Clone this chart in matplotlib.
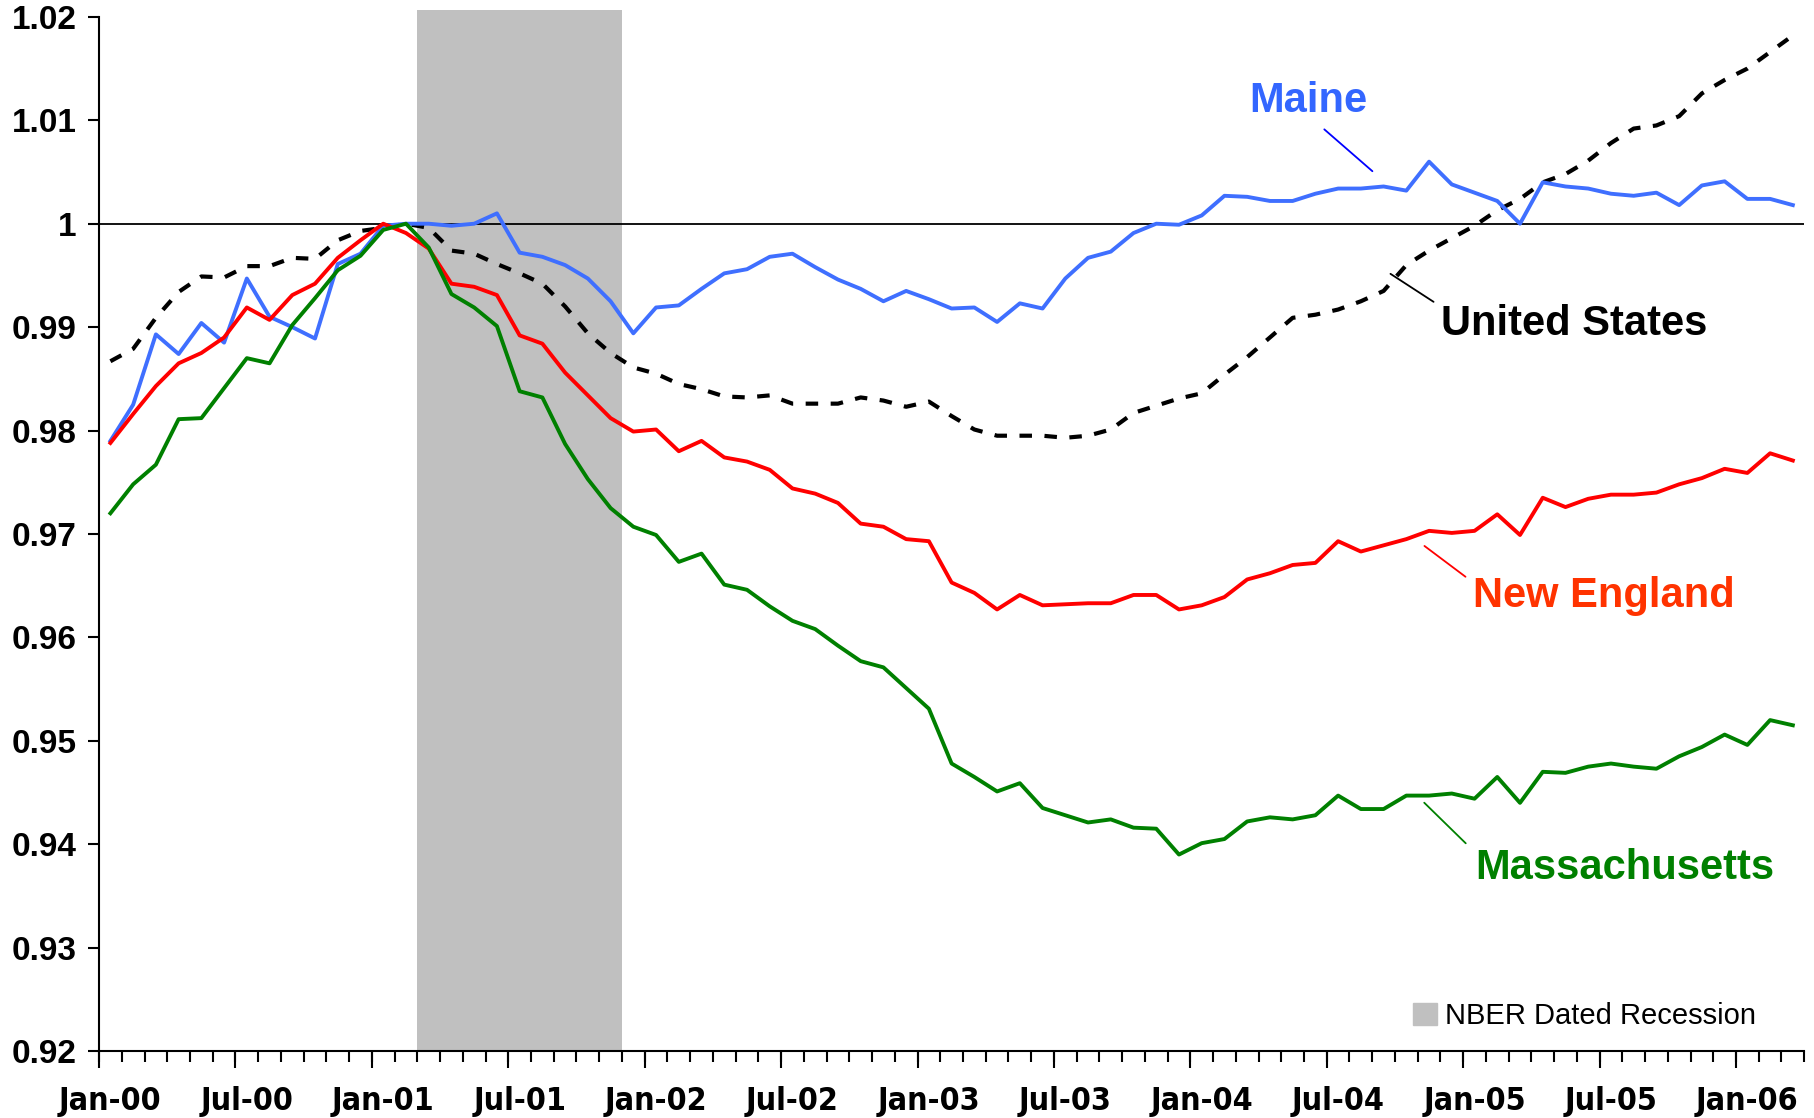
import numpy as np
import matplotlib
matplotlib.use('Agg')
import matplotlib.pyplot as plt
from matplotlib import font_manager
from matplotlib.patches import Patch

plt.rcParams['font.family'] = ['Liberation Sans', 'DejaVu Sans']


def is_bold(w):
    return w in ('bold', 'heavy', 'black', 'demibold', 'semibold') or (isinstance(w, int) and w >= 600)


# pick a bold narrow face for the date labels if one is installed
cands = [f for f in font_manager.fontManager.ttflist
         if ('Narrow' in f.name or 'Condensed' in f.name or 'condensed' in str(f.stretch))
         and is_bold(f.weight) and 'Oblique' not in f.fname and 'Italic' not in f.fname]
cands.sort(key=lambda f: (0 if 'Liberation' in f.name else 1, f.fname))
if cands:
    date_font = font_manager.FontProperties(fname=cands[0].fname, size=23)
else:
    date_font = font_manager.FontProperties(family='Liberation Sans', weight='bold', size=22)

# monthly index, Jan-00 .. Mar-06 (peak = 1)
months = ['Jan', 'Feb', 'Mar', 'Apr', 'May', 'Jun', 'Jul', 'Aug', 'Sep', 'Oct', 'Nov', 'Dec']
dates = [f'{months[i % 12]}-{i // 12:02d}' for i in range(75)]

maine = [0.9790, 0.9825, 0.9893, 0.9874, 0.9904, 0.9885, 0.9947, 0.9910, 0.9900, 0.9889,
         0.9961, 0.9971, 0.9998, 1.0000, 1.0000, 0.9998, 1.0000, 1.0010, 0.9972, 0.9968,
         0.9960, 0.9947, 0.9925, 0.9894, 0.9919, 0.9921, 0.9937, 0.9952, 0.9956, 0.9968,
         0.9971, 0.9958, 0.9946, 0.9937, 0.9925, 0.9935, 0.9927, 0.9918, 0.9919, 0.9905,
         0.9923, 0.9918, 0.9947, 0.9967, 0.9973, 0.9991, 1.0000, 0.9999, 1.0008, 1.0027,
         1.0026, 1.0022, 1.0022, 1.0029, 1.0034, 1.0034, 1.0036, 1.0032, 1.0060, 1.0038,
         1.0030, 1.0022, 1.0000, 1.0040, 1.0036, 1.0034, 1.0029, 1.0027, 1.0030, 1.0018,
         1.0037, 1.0041, 1.0024, 1.0024, 1.0018]

new_england = [0.9788, 0.9816, 0.9843, 0.9865, 0.9875, 0.9890, 0.9919, 0.9907, 0.9931, 0.9942,
               0.9967, 0.9984, 1.0000, 0.9991, 0.9976, 0.9942, 0.9939, 0.9931, 0.9892, 0.9884,
               0.9856, 0.9834, 0.9812, 0.9799, 0.9801, 0.9780, 0.9790, 0.9774, 0.9770, 0.9762,
               0.9744, 0.9739, 0.9730, 0.9710, 0.9707, 0.9695, 0.9693, 0.9653, 0.9643, 0.9627,
               0.9641, 0.9631, 0.9632, 0.9633, 0.9633, 0.9641, 0.9641, 0.9627, 0.9631, 0.9639,
               0.9656, 0.9662, 0.9670, 0.9672, 0.9693, 0.9683, 0.9689, 0.9695, 0.9703, 0.9701,
               0.9703, 0.9719, 0.9699, 0.9735, 0.9726, 0.9734, 0.9738, 0.9738, 0.9740, 0.9748,
               0.9754, 0.9763, 0.9759, 0.9778, 0.9771]

massachusetts = [0.9720, 0.9748, 0.9767, 0.9811, 0.9812, 0.9841, 0.9870, 0.9865, 0.9902, 0.9928,
                 0.9955, 0.9969, 0.9994, 1.0000, 0.9977, 0.9932, 0.9919, 0.9901, 0.9838, 0.9832,
                 0.9787, 0.9753, 0.9725, 0.9707, 0.9699, 0.9673, 0.9681, 0.9651, 0.9646, 0.9630,
                 0.9616, 0.9608, 0.9592, 0.9577, 0.9571, 0.9551, 0.9531, 0.9478, 0.9465, 0.9451,
                 0.9459, 0.9435, 0.9428, 0.9421, 0.9424, 0.9416, 0.9415, 0.9390, 0.9401, 0.9405,
                 0.9422, 0.9426, 0.9424, 0.9428, 0.9447, 0.9434, 0.9434, 0.9447, 0.9447, 0.9449,
                 0.9444, 0.9465, 0.9440, 0.9470, 0.9469, 0.9475, 0.9478, 0.9475, 0.9473, 0.9485,
                 0.9494, 0.9506, 0.9496, 0.9520, 0.9515]

us = [0.9867, 0.9879, 0.9909, 0.9934, 0.9949, 0.9948, 0.9959, 0.9959, 0.9967, 0.9966,
      0.9984, 0.9993, 0.9996, 1.0000, 0.9996, 0.9974, 0.9971, 0.9961, 0.9952, 0.9942,
      0.9920, 0.9894, 0.9875, 0.9861, 0.9855, 0.9845, 0.9840, 0.9833, 0.9832, 0.9834,
      0.9826, 0.9826, 0.9826, 0.9832, 0.9829, 0.9823, 0.9828, 0.9814, 0.9801, 0.9795,
      0.9795, 0.9795, 0.9793, 0.9795, 0.9801, 0.9817, 0.9824, 0.9831, 0.9836, 0.9854,
      0.9871, 0.9890, 0.9909, 0.9912, 0.9917, 0.9925, 0.9935, 0.9960, 0.9974, 0.9986,
      0.9998, 1.0013, 1.0024, 1.0040, 1.0048, 1.0061, 1.0078, 1.0092, 1.0095, 1.0104,
      1.0126, 1.0139, 1.0150, 1.0166, 1.0182]

recession = ('Mar-01', 'Nov-01')

x = np.arange(len(dates)) + 0.5

fig = plt.figure(figsize=(18.14, 11.18), dpi=100)
ax = fig.add_axes([0.0546, 0.0599, 0.94, 0.925])

r0 = dates.index(recession[0])
r1 = dates.index(recession[1]) + 1
ax.axvspan(r0, r1, ymin=0, ymax=1.007, color='#c0c0c0', lw=0, clip_on=False, zorder=0)
ax.axhline(1.0, color='black', lw=1.3, zorder=1)

ax.plot(x, us, color='black', lw=3, dashes=(3, 3), zorder=2)
ax.plot(x, maine, color='#3f6fff', lw=2.8, zorder=3)
ax.plot(x, new_england, color='#ff0000', lw=2.8, zorder=3)
ax.plot(x, massachusetts, color='#008000', lw=2.8, zorder=3)

ax.set_xlim(0, len(dates))
ax.set_ylim(0.92, 1.02)

# labels and leaders
bold = dict(fontsize=30, fontweight='bold', ha='center', va='center')
ax.text(53.2, 1.0119, 'Maine', color='#3366ff', **bold)
ax.annotate('', xy=(56.1, 1.0049), xytext=(53.8, 1.0093),
            arrowprops=dict(arrowstyle='-', color='#0000ff', lw=1.3))
ax.text(64.9, 0.9903, 'United States', color='black', **bold)
ax.annotate('', xy=(56.7, 0.9953), xytext=(58.8, 0.9923),
            arrowprops=dict(arrowstyle='-', color='black', lw=1.3))
ax.text(66.2, 0.9640, 'New England', color='#ff3300', **bold)
ax.annotate('', xy=(58.2, 0.9690), xytext=(60.2, 0.9657),
            arrowprops=dict(arrowstyle='-', color='#ff0000', lw=1.3))
ax.text(67.1, 0.9377, 'Massachusetts', color='#008000', **bold)
ax.annotate('', xy=(58.2, 0.9442), xytext=(60.2, 0.9399),
            arrowprops=dict(arrowstyle='-', color='#008000', lw=1.3))

for s in ['top', 'right']:
    ax.spines[s].set_visible(False)
for s in ['left', 'bottom']:
    ax.spines[s].set_linewidth(1.5)

yt = np.round(np.arange(0.92, 1.0201, 0.01), 2)
ax.set_yticks(yt)
ax.set_yticklabels([f'{v:g}' for v in yt], fontsize=24, fontweight='bold')
ax.tick_params(axis='y', direction='out', length=8, width=1.5, pad=8)

# month boundary ticks, labels at every 6th month centre
ax.set_xticks(x[::6])
ax.set_xticklabels(dates[::6], fontproperties=date_font)
ax.set_xticks(np.arange(len(dates) + 1), minor=True)
ax.tick_params(axis='x', which='major', length=0, pad=25)
ax.tick_params(axis='x', which='minor', direction='out', length=8, width=1.5)
sec = ax.secondary_xaxis('bottom')
sec.set_xticks(np.arange(0, len(dates) + 1, 6))
sec.set_xticklabels([])
sec.tick_params(length=12, width=1.5)
sec.spines['bottom'].set_visible(False)

ax.legend(handles=[Patch(color='#c0c0c0', label='NBER Dated Recession')],
          loc='center right', bbox_to_anchor=(0.972, 0.034), frameon=False,
          fontsize=21, handlelength=0.8, handleheight=0.8, handletextpad=0.3,
          borderpad=0, borderaxespad=0)

fig.savefig('out.png', dpi=100)
